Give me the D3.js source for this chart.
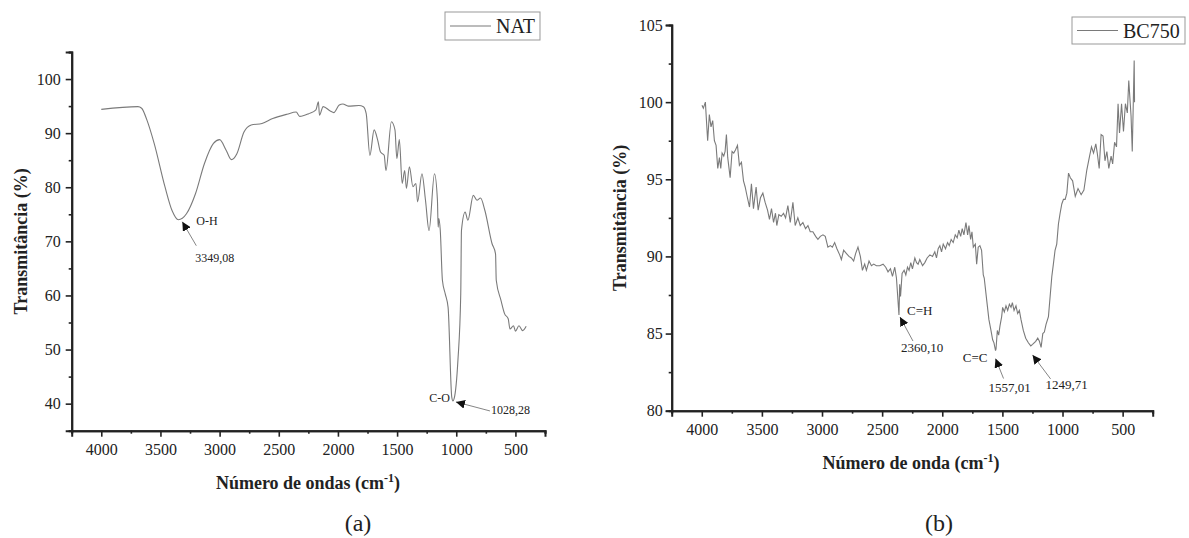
<!DOCTYPE html>
<html>
<head>
<meta charset="utf-8">
<script src="https://cdn.jsdelivr.net/npm/d3@7"></script>
<style>
  body { margin: 0; background: #fff; }
  svg { display: block; }
  text { font-family: "Liberation Serif", "Times New Roman", serif; fill: #222; }
</style>
</head>
<body>
<div id="chart"></div>
<script>
// tick values shared by both panels
var xTicks = [4000, 3500, 3000, 2500, 2000, 1500, 1000, 500];
var xMinor = [4250, 3750, 3250, 2750, 2250, 1750, 1250, 750, 250];

// panel (a) NAT
var natWave = [4000, 3690, 3659, 3614, 3553, 3462, 3402, 3349, 3280, 3204, 3128, 3052, 3000, 2946, 2900,
  2854, 2794, 2733, 2642, 2551, 2430, 2353, 2323, 2247, 2186, 2165, 2156, 2125, 2065, 2035, 1989, 1958,
  1913, 1822, 1785, 1761, 1730, 1694, 1664, 1640, 1609, 1594, 1548, 1518, 1502, 1481, 1457, 1436, 1421,
  1396, 1366, 1341, 1327, 1290, 1260, 1230, 1184, 1159, 1153, 1147, 1135, 1117, 1093, 1069, 1038, 1028,
  1017, 986, 962, 956, 925, 902, 856, 825, 795, 758, 698, 668, 662, 622, 591, 561, 546, 516, 500, 470,
  439, 409];
var natT = [94.4, 94.9, 94.6, 92.4, 88.1, 80.1, 75.7, 74.0, 75.1, 78.8, 84.4, 88.1, 88.8, 86.9, 85.1,
  86.2, 90.2, 91.5, 91.8, 92.7, 93.5, 93.9, 93.1, 93.6, 94.3, 95.8, 93.3, 94.9, 94.1, 93.8, 95.2, 95.4,
  95.0, 95.1, 94.9, 93.6, 85.9, 90.6, 88.7, 86.5, 85.9, 83.1, 92.1, 90.6, 85.3, 88.8, 80.7, 83.1, 79.8,
  83.8, 80.1, 80.7, 77.3, 82.5, 77.6, 72.0, 82.5, 77.6, 72.6, 74.2, 72.0, 62.8, 60.3, 57.8, 41.2, 40.5,
  41.0, 48.0, 60.3, 72.0, 75.4, 73.9, 78.5, 77.6, 78.0, 75.7, 69.6, 67.7, 62.8, 59.1, 56.6, 55.7, 53.8,
  54.4, 53.4, 54.4, 53.5, 54.3];
var natYTicks = [40, 50, 60, 70, 80, 90, 100];
var natYMinor = [35, 45, 55, 65, 75, 85, 95, 105];

// panel (b) BC750
var bcWave = [3998, 3987, 3970, 3951, 3937, 3923, 3909, 3895, 3881, 3867, 3853, 3842, 3831, 3817, 3806,
  3795, 3784, 3764, 3748, 3734, 3720, 3703, 3687, 3670, 3653, 3639, 3623, 3603, 3587, 3570, 3548, 3531,
  3512, 3492, 3473, 3453, 3437, 3420, 3403, 3387, 3376, 3359, 3339, 3320, 3303, 3284, 3264, 3242, 3223,
  3201, 3181, 3159, 3137, 3117, 3098, 3076, 3053, 3034, 3014, 2992, 2973, 2951, 2931, 2914, 2895, 2876,
  2853, 2839, 2820, 2798, 2776, 2756, 2737, 2720, 2701, 2681, 2664, 2645, 2631, 2609, 2589, 2570, 2548,
  2520, 2492, 2470, 2451, 2431, 2414, 2395, 2381, 2360, 2354, 2347, 2334, 2317, 2303, 2289, 2276, 2262,
  2248, 2228, 2214, 2201, 2187, 2164, 2145, 2126, 2103, 2081, 2062, 2048, 2034, 2020, 2006, 1992, 1973,
  1956, 1942, 1926, 1909, 1892, 1876, 1862, 1847, 1834, 1820, 1803, 1789, 1778, 1764, 1753, 1742, 1725,
  1714, 1701, 1687, 1673, 1659, 1651, 1631, 1612, 1595, 1581, 1570, 1557, 1553, 1542, 1531, 1520, 1506,
  1498, 1484, 1470, 1456, 1442, 1428, 1417, 1403, 1387, 1373, 1359, 1345, 1326, 1306, 1284, 1264, 1249,
  1223, 1206, 1192, 1178, 1164, 1151, 1137, 1117, 1103, 1089, 1076, 1062, 1048, 1034, 1020, 1006, 992,
  978, 964, 950, 935, 916, 894, 871, 845, 822, 798, 775, 759, 742, 723, 711, 695, 679, 663, 647, 631,
  615, 596, 583, 567, 551, 538, 526, 509, 493, 477, 461, 449, 430, 420, 411, 404, 401];
var bcT = [99.8, 99.6, 100.0, 97.5, 99.2, 98.4, 98.8, 97.5, 97.2, 95.7, 96.4, 95.7, 96.7, 96.5, 96.8,
  97.9, 96.4, 95.1, 96.8, 96.7, 96.9, 97.2, 95.9, 96.1, 94.9, 94.5, 93.9, 93.2, 94.7, 93.1, 94.5, 93.0,
  93.8, 94.1, 93.5, 93.0, 92.4, 93.1, 92.2, 92.8, 92.0, 92.7, 92.6, 92.8, 92.5, 93.3, 92.2, 93.5, 92.0,
  92.5, 92.0, 92.2, 91.8, 92.0, 91.6, 91.6, 91.3, 91.1, 91.3, 91.4, 91.3, 90.6, 90.7, 90.6, 90.9, 90.5,
  90.1, 89.8, 90.4, 90.2, 90.0, 89.9, 89.7, 90.2, 90.6, 90.0, 89.1, 89.5, 89.1, 89.7, 89.4, 89.5, 89.4,
  89.4, 89.5, 89.3, 89.0, 89.2, 88.7, 89.3, 88.6, 86.2, 88.2, 87.4, 88.9, 89.1, 88.8, 89.3, 89.1, 89.6,
  89.2, 89.9, 89.6, 89.5, 89.8, 89.4, 89.6, 89.9, 90.1, 90.0, 90.3, 89.9, 90.5, 90.7, 90.3, 90.8, 90.5,
  90.9, 90.7, 91.1, 90.9, 91.4, 91.2, 91.7, 91.3, 91.8, 91.4, 92.2, 91.4, 92.0, 91.1, 91.6, 90.6, 90.8,
  89.5, 90.6, 90.7, 90.4, 88.8, 88.6, 87.2, 85.9, 85.2, 84.6, 84.4, 83.9, 84.0, 85.2, 84.9, 85.5, 86.1,
  86.7, 86.4, 86.8, 86.5, 86.9, 86.7, 87.0, 86.5, 86.8, 86.3, 86.5, 85.9, 85.2, 84.7, 84.4, 84.2, 84.3,
  84.5, 84.7, 84.5, 84.1, 85.0, 85.1, 85.6, 86.1, 87.4, 88.7, 89.5, 90.4, 90.8, 92.1, 92.8, 93.4, 93.7,
  93.7, 94.1, 95.4, 95.1, 94.9, 93.9, 94.4, 94.0, 94.3, 95.6, 96.5, 97.1, 96.7, 97.3, 96.7, 95.7, 97.9,
  97.8, 96.2, 96.8, 95.7, 96.5, 96.0, 97.4, 97.1, 99.9, 98.0, 99.9, 98.1, 99.9, 99.3, 101.4, 99.1, 96.8,
  100.1, 102.7, 100.0];
var bcYTicks = [80, 85, 90, 95, 100, 105];
var bcYMinor = [82.5, 87.5, 92.5, 97.5, 102.5];

var svg = d3.select("#chart").append("svg")
  .attr("width", 1189)
  .attr("height", 538);

// arrow head
svg.append("defs").append("marker")
  .attr("id", "head")
  .attr("viewBox", "0 0 10 10")
  .attr("refX", 10).attr("refY", 5)
  .attr("markerWidth", 9).attr("markerHeight", 9)
  .attr("markerUnits", "userSpaceOnUse")
  .attr("orient", "auto")
  .append("path")
  .attr("d", "M0,0L10,5L0,10z")
  .attr("fill", "#111");

function drawPanel(p) {
  var x = d3.scaleLinear().domain([4250, 250]).range([p.left, p.right]);
  var y = d3.scaleLinear().domain(p.yDomain).range([p.bottom, p.top]);
  var g = svg.append("g");

  // x axis, major and minor
  g.append("g").attr("transform", "translate(0," + p.bottom + ")")
    .call(d3.axisBottom(x).tickValues(xMinor).tickSize(3).tickFormat(""));
  g.append("g").attr("class", "xa").attr("transform", "translate(0," + p.bottom + ")")
    .call(d3.axisBottom(x).tickValues(xTicks).tickSize(6).tickPadding(7).tickFormat(d3.format("d")));

  // y axis
  g.append("g").attr("transform", "translate(" + p.left + ",0)")
    .call(d3.axisLeft(y).tickValues(p.yMinor).tickSize(3).tickFormat(""));
  g.append("g").attr("transform", "translate(" + p.left + ",0)")
    .call(d3.axisLeft(y).tickValues(p.yTicks).tickSize(6).tickPadding(p.yPad).tickFormat(d3.format("d")));

  g.selectAll(".domain").attr("stroke", "#222").attr("stroke-width", 2);
  g.selectAll(".tick line").attr("stroke", "#222").attr("stroke-width", 1.6);
  g.selectAll(".tick text").attr("font-size", 16).attr("fill", "#222")
    .style("font-family", "'Liberation Serif', serif");

  // spectrum
  var line = d3.line()
    .x(function (d, i) { return x(p.wave[i]); })
    .y(function (d) { return y(d); })
    .curve(p.curve);
  g.append("path").datum(p.vals)
    .attr("d", line)
    .attr("fill", "none")
    .attr("stroke", "#7a7a7a")
    .attr("stroke-width", 1.1);

  // axis titles
  g.append("text")
    .attr("transform", "translate(" + p.yLabelX + "," + ((p.top + p.bottom) / 2) + ") rotate(-90)")
    .attr("text-anchor", "middle")
    .attr("font-size", 18).attr("font-weight", "bold")
    .text("Transmitância (%)");
  var xt = g.append("text")
    .attr("x", p.xLabelX).attr("y", p.xLabelY)
    .attr("text-anchor", "middle")
    .attr("font-size", 18).attr("font-weight", "bold");
  xt.append("tspan").text(p.xTitle + " (cm");
  xt.append("tspan").attr("font-size", 12).attr("dy", -7).text("-1");
  xt.append("tspan").attr("dy", 7).text(")");

  g.append("text")
    .attr("x", p.capX).attr("y", 531)
    .attr("text-anchor", "middle")
    .attr("font-size", 24)
    .text(p.caption);

  // legend
  var lg = g.append("g");
  lg.append("rect")
    .attr("x", p.leg[0]).attr("y", p.leg[1])
    .attr("width", p.leg[2]).attr("height", p.leg[3])
    .attr("fill", "#fff").attr("stroke", "#999").attr("stroke-width", 1);
  lg.append("line")
    .attr("x1", p.leg[0] + 5).attr("x2", p.leg[0] + 46)
    .attr("y1", p.leg[1] + p.leg[3] / 2).attr("y2", p.leg[1] + p.leg[3] / 2)
    .attr("stroke", "#7a7a7a").attr("stroke-width", 1.1);
  lg.append("text")
    .attr("x", p.leg[0] + 51).attr("y", p.leg[1] + p.leg[3] / 2 + 7)
    .attr("font-size", 20)
    .text(p.name);

  // peak annotations
  p.notes.forEach(function (n) {
    var tx = x(n.wave) + n.tip[0], ty = y(n.t) + n.tip[1];
    g.append("line")
      .attr("x1", tx + n.tail[0]).attr("y1", ty + n.tail[1])
      .attr("x2", tx).attr("y2", ty)
      .attr("stroke", "#777").attr("stroke-width", 0.9)
      .attr("marker-end", "url(#head)");
    if (n.label) {
      g.append("text")
        .attr("x", tx + n.label[1]).attr("y", ty + n.label[2])
        .attr("text-anchor", n.label[3] || "start")
        .attr("font-size", p.noteSize)
        .text(n.label[0]);
    }
    g.append("text")
      .attr("x", tx + n.value[1]).attr("y", ty + n.value[2])
      .attr("font-size", p.noteSize)
      .text(n.value[0]);
  });
}

drawPanel({
  left: 71.7, right: 545, top: 52, bottom: 430.7,
  yDomain: [35, 105], yTicks: natYTicks, yMinor: natYMinor, yPad: 5,
  wave: natWave, vals: natT, curve: d3.curveMonotoneX,
  yLabelX: 27, xLabelX: 308, xLabelY: 489, xTitle: "Número de ondas",
  capX: 358, caption: "(a)",
  leg: [445, 12, 95, 28], name: "NAT",
  noteSize: 12,
  notes: [
    { wave: 3349, t: 74, tip: [4, 2], tail: [14, 24], label: ["O-H", 14, 3], value: ["3349,08", 13, 40] },
    { wave: 1028, t: 40.5, tip: [3, 1], tail: [34, 9], label: ["C-O", -6, 0, "end"], value: ["1028,28", 35, 12] }
  ]
});

drawPanel({
  left: 671.7, right: 1152.7, top: 25, bottom: 410.7,
  yDomain: [80, 105], yTicks: bcYTicks, yMinor: bcYMinor, yPad: 3,
  wave: bcWave, vals: bcT, curve: d3.curveLinear,
  yLabelX: 626, xLabelX: 911, xLabelY: 469, xTitle: "Número de onda",
  capX: 939, caption: "(b)",
  leg: [1072, 17, 113, 27], name: "BC750",
  noteSize: 13,
  notes: [
    { wave: 2360, t: 86.2, tip: [1, 2], tail: [13, 24], label: ["C=H", 7, -2], value: ["2360,10", 1, 35] },
    { wave: 1557, t: 83.9, tip: [0, 8], tail: [8, 20], label: ["C=C", -8, 3, "end"], value: ["1557,01", -7, 33] },
    { wave: 1249, t: 84.2, tip: [0, 9], tail: [18, 24], value: ["1249,71", 13, 34] }
  ]
});
</script>
</body>
</html>
